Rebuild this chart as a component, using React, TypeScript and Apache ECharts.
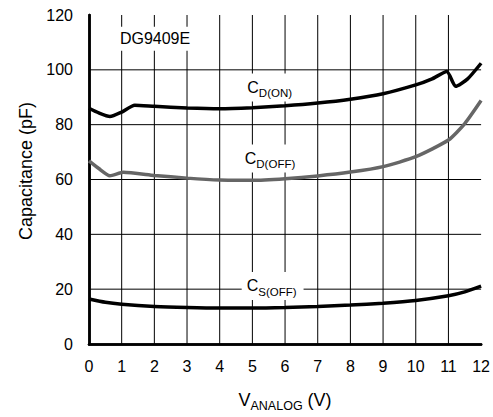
import React, { useEffect, useRef } from "react";
import * as echarts from "echarts";

const FONT = "'Liberation Sans', Arial, Helvetica, sans-serif";

// C_D(ON)
const xOn = [0, 0.3, 0.64, 1.0, 1.4, 2, 3, 4, 5, 6, 7, 8, 9, 10, 10.5, 10.95, 11.22, 11.58, 12];
const yOn = [86.0, 84.3, 83.0, 84.6, 87.1, 86.7, 86.1, 85.8, 86.2, 86.9, 87.9, 89.3, 91.3, 94.5, 96.7, 99.4, 94.0, 96.6, 102.4];

// C_D(OFF)
const xOff = [0, 0.3, 0.64, 1.05, 2, 3, 4, 5, 6, 7, 8, 9, 10, 11, 11.5, 12];
const yOff = [66.8, 64.0, 61.4, 62.6, 61.5, 60.5, 59.8, 59.7, 60.3, 61.3, 62.7, 64.7, 68.3, 74.4, 80.4, 88.8];

// C_S(OFF)
const xS = [0, 0.5, 1, 2, 3, 4, 5, 6, 7, 8, 9, 10, 11, 11.5, 12];
const yS = [16.4, 15.2, 14.5, 13.7, 13.3, 13.1, 13.1, 13.3, 13.7, 14.2, 14.9, 15.9, 17.6, 19.0, 21.1];

const xTicks = { min: 0, max: 12, interval: 1 };
const yTicks = { min: 0, max: 120, interval: 20 };
const xGridValues = [1, 2, 3, 4, 5, 6, 7, 8, 9, 10, 11];
const yGridValues = [20, 40, 60, 80, 100];

const labelOn = { text: "{m|C}{s|D(ON)}", x: 5.53, y: 93.6 };
const labelOff = { text: "{m|C}{s|D(OFF)}", x: 5.54, y: 67.7 };
const labelS = { text: "{m|C}{s|S(OFF)}", x: 5.62, y: 21.2 };
const labelPart = { text: "DG9409E", x: 2.02, y: 111.3 };

const pairs = (xs: number[], ys: number[]) => xs.map((x, i) => [x, ys[i]]);

const richC = {
  m: { fontSize: 16, lineHeight: 24, color: "#000", fontFamily: FONT },
  s: { fontSize: 11.5, lineHeight: 11, verticalAlign: "bottom", color: "#000", fontFamily: FONT },
};

const markItem = (l: { text: string; x: number; y: number }, padding: number[]) => ({
  coord: [l.x, l.y],
  value: 0,
  label: {
    show: true,
    position: "inside",
    formatter: l.text,
    backgroundColor: "#fff",
    padding,
    color: "#000",
    fontFamily: FONT,
    fontSize: 16,
    rich: richC,
  },
});

const markPoints = (items: any[]) => ({
  silent: true,
  animation: false,
  symbol: "rect",
  symbolSize: 1,
  z: 6,
  itemStyle: { color: "rgba(0,0,0,0)" },
  data: items,
});

const AXLINE = { show: true, lineStyle: { color: "#000", width: 2.5 } };

export default function App() {
  const ref = useRef<HTMLDivElement>(null);
  useEffect(() => {
    if (!ref.current) return;
    const chart = echarts.init(ref.current, undefined, { renderer: "svg" });
    const lineBase = { type: "line", showSymbol: false, smooth: 0.2, z: 3 };
    const gridLine = (data: number[][]) => ({
      type: "line",
      data,
      showSymbol: false,
      silent: true,
      z: 2,
      lineStyle: { color: "#000", width: 1 },
      emphasis: { disabled: true },
    });
    chart.setOption({
      animation: false,
      grid: { left: 89, right: 11, top: 15, bottom: 69 },
      xAxis: [
        {
          type: "value",
          ...xTicks,
          axisLine: AXLINE,
          axisTick: { show: false },
          splitLine: { show: false },
          axisLabel: { color: "#000", fontSize: 16, fontFamily: FONT, margin: 14 },
          name: "{m|V}{s|ANALOG}{m| (V)}",
          nameLocation: "middle",
          nameGap: 44,
          nameTextStyle: {
            rich: {
              m: { fontSize: 18, lineHeight: 24, color: "#000", fontFamily: FONT },
              s: { fontSize: 12.5, lineHeight: 16, verticalAlign: "bottom", color: "#000", fontFamily: FONT },
            },
          },
        },
        {
          type: "value",
          position: "top",
          ...xTicks,
          axisLine: AXLINE,
          axisTick: { show: false },
          axisLabel: { show: false },
          splitLine: { show: false },
        },
      ],
      yAxis: [
        {
          type: "value",
          ...yTicks,
          axisLine: AXLINE,
          axisTick: { show: false },
          splitLine: { show: false },
          axisLabel: { color: "#000", fontSize: 16, fontFamily: FONT, margin: 16 },
          name: "Capacitance (pF)",
          nameLocation: "middle",
          nameGap: 54,
          nameTextStyle: { color: "#000", fontSize: 18, fontFamily: FONT, padding: [0, 0, 0, 17] },
        },
        {
          type: "value",
          position: "right",
          ...yTicks,
          axisLine: AXLINE,
          axisTick: { show: false },
          axisLabel: { show: false },
          splitLine: { show: false },
        },
      ],
      series: [
        ...xGridValues.map((v) => gridLine([[v, yTicks.min], [v, yTicks.max]])),
        ...yGridValues.map((v) => gridLine([[xTicks.min, v], [xTicks.max, v]])),
        {
          ...lineBase,
          name: "CD(ON)",
          data: pairs(xOn, yOn),
          lineStyle: { color: "#000", width: 3.5 },
          markPoint: markPoints([markItem(labelOn, [2, 4]), markItem(labelPart, [4, 5])]),
        },
        {
          ...lineBase,
          name: "CD(OFF)",
          data: pairs(xOff, yOff),
          lineStyle: { color: "#666", width: 3.5 },
          markPoint: markPoints([markItem(labelOff, [2, 4])]),
        },
        {
          ...lineBase,
          name: "CS(OFF)",
          data: pairs(xS, yS),
          lineStyle: { color: "#000", width: 3.5 },
          markPoint: markPoints([markItem(labelS, [2, 7, 2, 5])]),
        },
      ],
    });
    return () => chart.dispose();
  }, []);
  return <div ref={ref} style={{ position: "absolute", left: 0, top: 0, width: 493, height: 417 }} />;
}
